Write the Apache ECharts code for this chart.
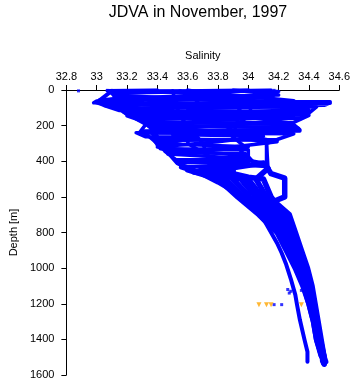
<!DOCTYPE html>
<head>
    <meta charset="utf-8">
    <title>JDVA in November, 1997</title>
    <script src="https://cdn.jsdelivr.net/npm/echarts@6/dist/echarts.min.js"></script>
</head>
<body style="margin:0">
    <div id="main" style="width:353px;height:384px"></div>
    <script type="text/javascript">
    // salinity ticks / depth ticks
    var salTicks = [32.8, 33, 33.2, 33.4, 33.6, 33.8, 34, 34.2, 34.4, 34.6];
    var depthTicks = [0, 200, 400, 600, 800, 1000, 1200, 1400, 1600];

    // CTD casts, [salinity, depth m]
    var castA = [[33.40,0],[33.07,4],[34.20,8],[34.16,35],[33.00,62],[32.98,72],[34.00,76],[34.54,74],[34.50,86],[33.14,102],[33.20,138],[34.40,142],[34.30,182],[33.33,186],[33.28,242],[34.30,246],[34.19,278],[33.38,284],[33.42,330],[34.00,336],[34.00,404],[33.53,408],[33.60,448],[33.80,500],[33.93,600],[34.07,700],[34.19,800],[34.25,900],[34.31,1000],[34.36,1100],[34.40,1200],[34.43,1300],[34.45,1400],[34.48,1480]];
    var castB = [[34.15,0],[33.10,18],[33.12,40],[34.12,45],[34.30,60],[33.05,88],[33.15,115],[34.40,120],[34.35,160],[33.26,162],[33.35,205],[34.30,208],[34.34,230],[33.26,240],[33.32,262],[33.66,265],[33.40,310],[33.47,352],[33.98,356],[34.05,420],[33.56,432],[33.70,470],[33.85,500],[33.97,600],[34.10,700],[34.21,800],[34.26,900],[34.32,1000],[34.37,1100],[34.405,1200],[34.435,1300],[34.455,1400],[34.485,1500]];
    var castC = [[33.60,0],[33.75,25],[33.02,55],[33.10,80],[34.45,95],[34.40,130],[33.18,125],[33.24,150],[34.30,155],[34.00,190],[33.36,220],[33.38,275],[34.19,282],[34.12,300],[34.12,420],[34.00,422],[33.90,440],[33.90,500],[34.01,600],[34.13,700],[34.22,800],[34.28,900],[34.33,1000],[34.38,1100],[34.41,1200],[34.44,1300],[34.46,1400],[34.49,1500],[34.49,1510]];
    var castD = [[33.90,0],[34.20,28],[33.12,48],[33.00,70],[34.35,100],[34.40,110],[33.20,145],[33.30,175],[34.30,195],[34.34,222],[33.30,230],[33.40,300],[34.00,318],[33.45,345],[33.52,390],[34.00,395],[33.64,460],[34.00,500],[34.09,600],[34.18,700],[34.26,800],[34.31,900],[34.355,1000],[34.395,1100],[34.425,1200],[34.45,1300],[34.47,1400],[34.495,1500],[34.50,1540]];
    var castE = [[34.00,0],[33.08,12],[33.15,30],[33.90,65],[34.54,66],[34.30,92],[33.60,105],[34.20,150],[33.80,170],[33.35,195],[34.33,215],[33.50,250],[34.10,260],[33.80,290],[33.40,320],[34.00,372],[33.53,400],[34.12,430],[34.15,470],[34.24,495],[34.24,600],[34.17,625],[34.27,700],[34.31,800],[34.35,900],[34.39,1000],[34.42,1100],[34.44,1200],[34.46,1300],[34.48,1400],[34.50,1500],[34.51,1525]];
    var castF = [[33.20,5],[33.80,20],[34.10,45],[33.40,60],[33.16,105],[33.60,125],[34.25,135],[33.70,175],[33.34,200],[33.90,240],[34.19,290],[33.80,330],[33.47,360],[33.90,380],[34.10,410],[33.80,450],[34.00,490],[34.10,500],[34.15,600],[34.24,700],[34.29,800],[34.34,900],[34.38,1000],[34.41,1100],[34.435,1200],[34.455,1300],[34.475,1400],[34.50,1500],[34.50,1530]];
    var castH = [[33.60,5],[33.70,100],[33.62,200],[33.60,300],[33.80,400],[33.68,462],[33.95,500],[34.05,600],[34.16,700],[34.24,800],[34.29,900],[34.345,1000],[34.385,1100],[34.415,1200],[34.445,1300],[34.465,1400],[34.49,1500],[34.49,1520]];
    var castI = [[33.85,5],[33.95,120],[33.90,250],[34.12,300],[34.13,440],[34.05,500],[34.12,600],[34.21,700],[34.28,800],[34.32,900],[34.37,1000],[34.40,1100],[34.43,1200],[34.45,1300],[34.47,1400],[34.50,1500],[34.50,1535]];
    var castJ = [[33.50,5],[33.55,150],[33.70,300],[33.75,420],[33.83,500],[33.95,600],[34.085,700],[34.20,800],[34.255,900],[34.315,1000],[34.365,1100],[34.40,1200],[34.43,1300],[34.45,1400],[34.48,1490]];
    var castK = [[34.05,5],[34.00,150],[33.85,230],[33.95,300],[33.98,320],[33.88,420],[33.74,455],[33.92,480],[33.975,500],[34.075,600],[34.195,700],[34.27,800],[34.315,900],[34.36,1000],[34.39,1100],[34.42,1200],[34.445,1300],[34.465,1400],[34.495,1500],[34.495,1530]];
    // the cast that splits off to the left below 700 m
    var castG = [[33.10,5],[33.00,70],[33.05,85],[33.22,120],[33.30,170],[33.38,230],[33.42,300],[33.50,380],[33.53,410],[33.62,440],[33.72,485],[33.80,520],[33.90,570],[34.00,640],[34.07,700],[34.11,740],[34.15,800],[34.19,860],[34.22,915],[34.25,980],[34.28,1060],[34.31,1150],[34.32,1200],[34.34,1290],[34.37,1400],[34.39,1470],[34.39,1525]];

    // loose blue samples
    var looseSal = [32.88, 33.07, 33.55, 34.29, 34.17, 34.26, 34.28, 34.27, 34.35, 34.17, 34.22];
    var looseDepth = [5, 2, 3, 62, 2, 1120, 1130, 1140, 1125, 1205, 1205];
    // bottle samples (orange)
    var bottleSal = [34.07, 34.12, 34.15, 34.35, 34.41];
    var bottleDepth = [1205, 1205, 1205, 1205, 1205];

    var casts = [castA, castB, castC, castH, castJ, castK, castD, castI, castF, castE];
    var blue = '#0000ff';
    var font = 'Liberation Sans, Arial, sans-serif';
    var split = 450; // thinner strokes in the noisy upper layer

    function castSeries(c, w) {
        return {
            type: 'line',
            data: c,
            showSymbol: false,
            silent: true,
            lineStyle: {color: blue, width: w, join: 'round', cap: 'round'},
            animation: false
        };
    }
    var series = [];
    casts.forEach(function (c) {
        var k = 0;
        while (k < c.length - 1 && c[k][1] < split) k++;
        series.push(castSeries(c.slice(0, k + 1), 3.5));
        series.push(castSeries(c.slice(Math.max(k - 1, 0)), 5.5));
    });
    series.push(castSeries(castG, 4));
    series.push({
        type: 'scatter',
        data: looseSal.map(function (s, i) { return [s, looseDepth[i]]; }),
        symbol: 'rect',
        symbolSize: 3,
        itemStyle: {color: blue},
        animation: false
    });
    series.push({
        type: 'scatter',
        data: bottleSal.map(function (s, i) { return [s, bottleDepth[i]]; }),
        symbol: 'triangle',
        symbolRotate: 180,
        symbolSize: 5,
        itemStyle: {color: '#ffa500'},
        animation: false
    });

    var myChart = echarts.init(document.getElementById('main'));
    myChart.setOption({
        title: {
            text: 'JDVA in November, 1997',
            left: 193,
            top: 0,
            textAlign: 'center',
            textStyle: {fontFamily: font, fontSize: 16, fontWeight: 'normal', color: '#000'}
        },
        grid: {left: 54, top: 90, width: 286, height: 285},
        xAxis: {
            type: 'value',
            position: 'top',
            min: salTicks[0],
            max: salTicks[salTicks.length - 1],
            interval: 0.2,
            name: 'Salinity',
            nameLocation: 'middle',
            nameGap: 29,
            nameTextStyle: {fontFamily: font, fontSize: 11, color: '#000'},
            axisLine: {lineStyle: {color: '#000', width: 1}},
            axisTick: {length: 5, lineStyle: {color: '#000'}},
            axisLabel: {fontFamily: font, fontSize: 11, color: '#000', margin: 8},
            splitLine: {show: false}
        },
        yAxis: {
            type: 'value',
            inverse: true,
            min: depthTicks[0],
            max: depthTicks[depthTicks.length - 1],
            interval: 200,
            name: 'Depth [m]',
            nameLocation: 'middle',
            nameGap: 45,
            nameTextStyle: {fontFamily: font, fontSize: 11, color: '#000'},
            axisLine: {show: true, lineStyle: {color: '#000', width: 1}},
            axisTick: {show: true, length: 5, lineStyle: {color: '#000'}},
            axisLabel: {
                fontFamily: font, fontSize: 11, color: '#000', margin: 12,
                formatter: function (v) { return String(v); }
            },
            splitLine: {show: false}
        },
        series: series
    });
    </script>
</body>
